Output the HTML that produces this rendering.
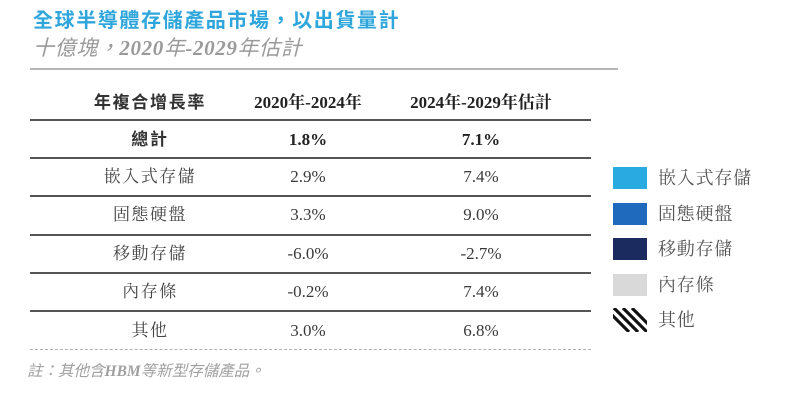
<!DOCTYPE html>
<html><head><meta charset="utf-8">
<style>
html,body{margin:0;padding:0;background:#fff;}
body{width:800px;height:403px;position:relative;overflow:hidden;}
.a{position:absolute;white-space:nowrap;}
.title{left:33px;top:8px;font:bold 20px "Liberation Sans","Noto Sans CJK TC",sans-serif;color:#2ea6dc;letter-spacing:1.6px;line-height:26px;}
.sub{left:33px;top:35px;font:italic 21px "Liberation Serif","Noto Sans CJK TC",serif;color:#9a9a9a;line-height:26px;letter-spacing:0.6px;}
.sub b{font-weight:bold;}
.hr{position:absolute;height:2px;}
.c{position:absolute;text-align:center;line-height:24px;font-size:17px;}
.cj{font-family:"Liberation Serif","Noto Serif CJK TC","Noto Serif CJK SC",serif;color:#444;letter-spacing:1.5px;}
.num{font-family:"Liberation Serif","Noto Serif CJK TC",serif;color:#3a3a3a;}
.hd{font-family:"Liberation Sans","Noto Sans CJK TC",sans-serif;font-weight:bold;color:#333;letter-spacing:1.7px;}
.hn{font-family:"Liberation Serif","Noto Serif CJK TC",serif;font-weight:bold;color:#222;}
.lg{position:absolute;left:613px;width:34px;height:22px;}
.lt{position:absolute;left:658px;font:18px "Liberation Serif","Noto Serif CJK TC",serif;color:#555;line-height:22px;letter-spacing:0.8px;}
.note{left:27px;top:360px;font:italic 15.5px "Liberation Serif","Noto Sans CJK TC",serif;color:#a0a0a0;line-height:24px;}
</style></head><body>
<div class="a title">全球半導體存儲產品市場，以出貨量計</div>
<div class="a sub">十億塊，<b>2020</b>年<b>-2029</b>年估計</div>
<div class="hr" style="left:30px;top:68px;width:588px;background:#b5b5b5;"></div>

<!-- table lines -->
<div class="hr" style="left:30px;top:119px;width:561px;background:#555;"></div>
<div class="hr" style="left:30px;top:157px;width:561px;background:#555;"></div>
<div class="hr" style="left:30px;top:195px;width:561px;background:#555;"></div>
<div class="hr" style="left:30px;top:234px;width:561px;background:#555;"></div>
<div class="hr" style="left:30px;top:272px;width:561px;background:#555;"></div>
<div class="hr" style="left:30px;top:310px;width:561px;background:#555;"></div>
<div class="hr" style="left:30px;top:349px;width:561px;height:0;border-top:1.5px dashed #b0b0b0;"></div>

<!-- header -->
<div class="c hd" style="left:70px;width:160px;top:91px;">年複合增長率</div>
<div class="c hn" style="left:228px;width:160px;top:91px;">2020年-2024年</div>
<div class="c hn" style="left:400px;width:162px;top:91px;">2024年-2029年估計</div>

<!-- total -->
<div class="c hd" style="left:70px;width:160px;top:128px;">總計</div>
<div class="c hn" style="left:228px;width:160px;top:128px;">1.8%</div>
<div class="c hn" style="left:400px;width:162px;top:128px;">7.1%</div>

<div class="c cj" style="left:70px;width:160px;top:165px;">嵌入式存儲</div>
<div class="c num" style="left:228px;width:160px;top:165px;">2.9%</div>
<div class="c num" style="left:400px;width:162px;top:165px;">7.4%</div>

<div class="c cj" style="left:70px;width:160px;top:203px;">固態硬盤</div>
<div class="c num" style="left:228px;width:160px;top:203px;">3.3%</div>
<div class="c num" style="left:400px;width:162px;top:203px;">9.0%</div>

<div class="c cj" style="left:70px;width:160px;top:242px;">移動存儲</div>
<div class="c num" style="left:228px;width:160px;top:242px;">-6.0%</div>
<div class="c num" style="left:400px;width:162px;top:242px;">-2.7%</div>

<div class="c cj" style="left:70px;width:160px;top:280px;">內存條</div>
<div class="c num" style="left:228px;width:160px;top:280px;">-0.2%</div>
<div class="c num" style="left:400px;width:162px;top:280px;">7.4%</div>

<div class="c cj" style="left:70px;width:160px;top:319px;">其他</div>
<div class="c num" style="left:228px;width:160px;top:319px;">3.0%</div>
<div class="c num" style="left:400px;width:162px;top:319px;">6.8%</div>

<!-- legend -->
<div class="lg" style="top:167px;background:#29abe2;"></div>
<div class="lt" style="top:167px;">嵌入式存儲</div>
<div class="lg" style="top:203px;background:#1f6abd;"></div>
<div class="lt" style="top:203px;">固態硬盤</div>
<div class="lg" style="top:238px;background:#1b2b5f;"></div>
<div class="lt" style="top:238px;">移動存儲</div>
<div class="lg" style="top:274px;background:#d9d9d9;"></div>
<div class="lt" style="top:274px;">內存條</div>
<svg style="position:absolute;left:613px;top:308px;" width="34" height="24" viewBox="0 0 34 24">
<defs><clipPath id="cp"><rect x="0" y="0" width="34" height="24"/></clipPath></defs>
<g clip-path="url(#cp)" stroke="#111" stroke-width="3.2">
<line x1="-8" y1="0" x2="16" y2="24"/>
<line x1="1" y1="0" x2="25" y2="24"/>
<line x1="10" y1="0" x2="34" y2="24"/>
<line x1="19" y1="0" x2="43" y2="24"/>
</g></svg>
<div class="lt" style="top:309px;">其他</div>

<div class="a note">註：其他含<b>HBM</b>等新型存儲產品。</div>
</body></html>
